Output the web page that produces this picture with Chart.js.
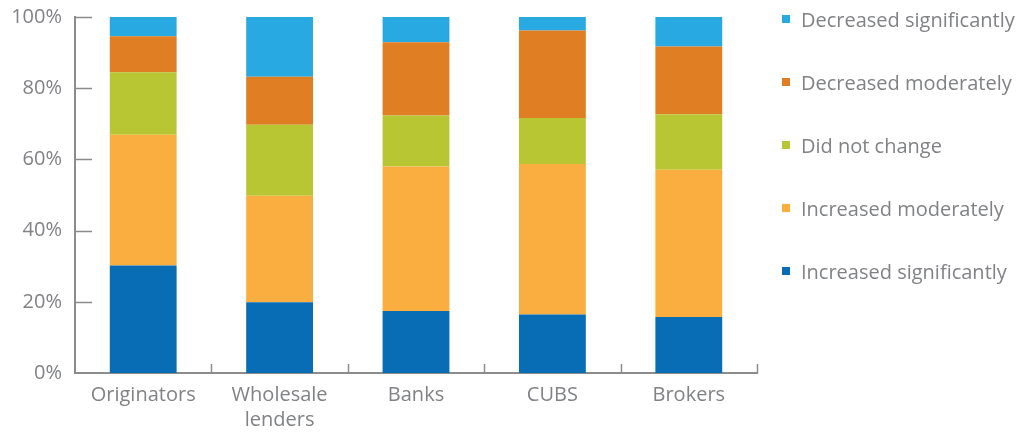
<!DOCTYPE html>
<html>
<head>
<meta charset="utf-8">
<script src="https://cdn.jsdelivr.net/npm/chart.js@4"></script>
<style>
  html, body { margin: 0; padding: 0; background: #fff; }
  #wrap { position: relative; width: 1031px; height: 432px; }
  #legend { position: absolute; left: 782px; top: 7px; font-family: "Open Sans", Lato, sans-serif; font-size: 20px; color: #808285; }
  .item { display: flex; align-items: center; height: 24px; margin-bottom: 39px; white-space: nowrap; }
  .swatch { width: 8px; height: 8px; margin-right: 11px; flex: none; }
</style>
</head>
<body>
<div id="wrap">
  <canvas id="chart" width="1031" height="432"></canvas>
  <div id="legend"></div>
</div>
<script>
const categories = ["Originators", ["Wholesale", "lenders"], "Banks", "CUBS", "Brokers"];
const seriesNames = ["Increased significantly", "Increased moderately", "Did not change", "Decreased moderately", "Decreased significantly"];
const increasedSignificantly = [30.2, 19.9, 17.4, 16.4, 15.7];
const increasedModerately = [36.7, 29.9, 40.6, 42.3, 41.4];
const didNotChange = [17.6, 19.9, 14.3, 12.9, 15.6];
const decreasedModerately = [10.1, 13.5, 20.6, 24.6, 19.0];
const decreasedSignificantly = [5.4, 16.8, 7.1, 3.8, 8.3];
const yTicks = [0, 20, 40, 60, 80, 100];

const colors = ["#086db5", "#fbae40", "#b8c633", "#e07e23", "#29a9e1"];
const seriesValues = [increasedSignificantly, increasedModerately, didNotChange, decreasedModerately, decreasedSignificantly];
const AXIS = "#8c8c8c";
const TEXT = "#808285";
const FONT = "'Open Sans', Lato, sans-serif";

// tick marks drawn inside the plot, like the original
const innerTicks = {
  id: "innerTicks",
  afterDraw(chart) {
    const { ctx, chartArea, scales: { x, y } } = chart;
    ctx.save();
    ctx.strokeStyle = AXIS;
    ctx.lineWidth = 1.5;
    ctx.beginPath();
    yTicks.slice(1).forEach((v) => {
      const py = Math.round(y.getPixelForValue(v)) + 0.5;
      ctx.moveTo(chartArea.left, py);
      ctx.lineTo(chartArea.left + 17, py);
    });
    for (let i = 1; i <= categories.length; i++) {
      const px = Math.round(x.getPixelForValue(i - 0.5)) + 0.5;
      ctx.moveTo(px, chartArea.bottom);
      ctx.lineTo(px, chartArea.bottom - 9);
    }
    ctx.stroke();
    ctx.restore();
  },
};

new Chart(document.getElementById("chart"), {
  type: "bar",
  data: {
    labels: categories,
    datasets: seriesNames.map((name, i) => ({
      label: name,
      data: seriesValues[i],
      backgroundColor: colors[i],
      borderWidth: 0,
      categoryPercentage: 1,
      barPercentage: 0.49,
    })),
  },
  options: {
    responsive: false,
    animation: false,
    layout: { padding: { top: 6, right: 274, left: 0, bottom: 0 } },
    plugins: { legend: { display: false }, tooltip: { enabled: false } },
    scales: {
      x: {
        stacked: true,
        grid: { display: false },
        border: { display: true, color: AXIS, width: 2 },
        ticks: { color: TEXT, font: { family: FONT, size: 20, lineHeight: 1.25 }, padding: 2, maxRotation: 0 },
        afterFit: (scale) => { scale.height = 59; },
      },
      y: {
        stacked: true,
        min: 0,
        max: 100,
        grid: { display: false },
        border: { display: true, color: AXIS, width: 2 },
        ticks: { stepSize: 20, color: TEXT, font: { family: FONT, size: 20 }, padding: 5, callback: (v) => v + "%" },
        afterFit: (scale) => { scale.width = 75; },
      },
    },
  },
  plugins: [innerTicks],
});

document.getElementById("legend").innerHTML = seriesNames
  .map((name, i) => `<div class="item"><span class="swatch" style="background:${colors[i]}"></span>${name}</div>`)
  .reverse()
  .join("");
</script>
</body>
</html>
